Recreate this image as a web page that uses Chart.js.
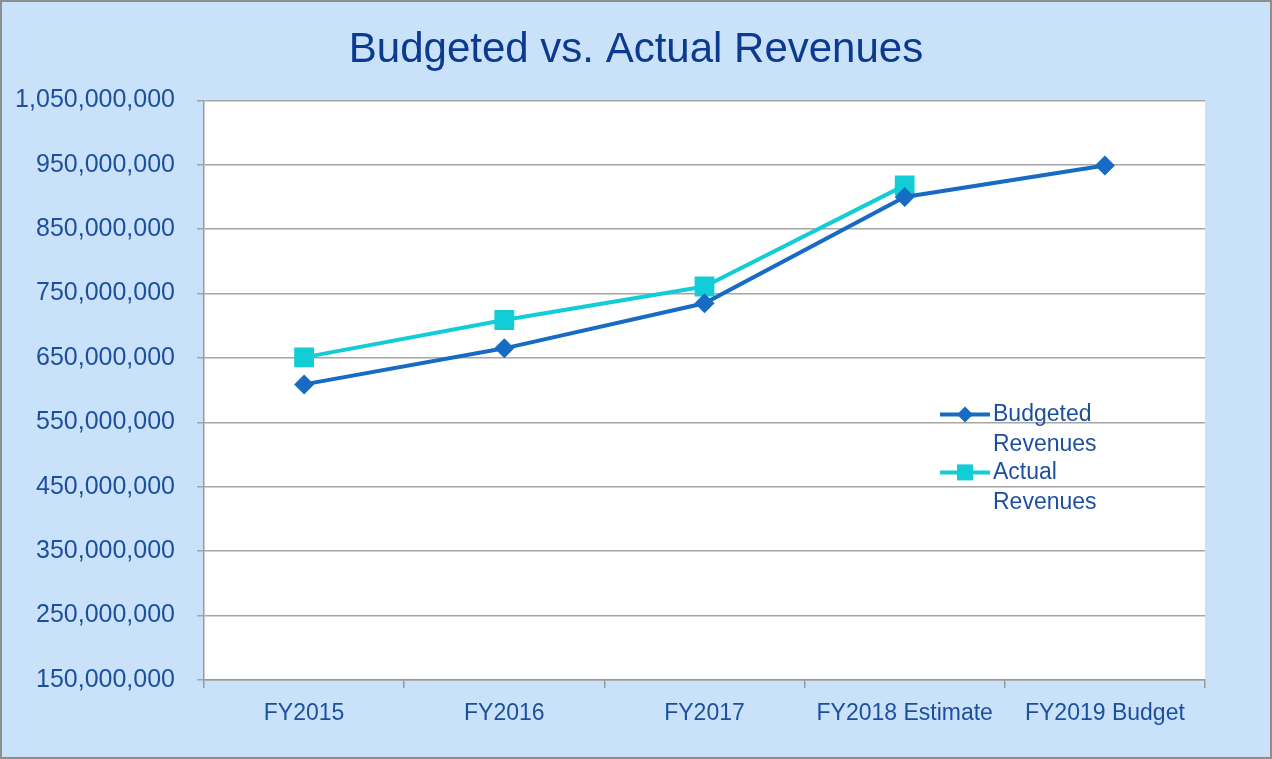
<!DOCTYPE html>
<html>
<head>
<meta charset="utf-8">
<title>Budgeted vs. Actual Revenues</title>
<script src="https://cdn.jsdelivr.net/npm/chart.js@4/dist/chart.umd.min.js"></script>
<style>
  html, body { margin: 0; padding: 0; background: #c9e2f9; }
  #wrap { width: 1272px; height: 759px; position: relative; }
</style>
</head>
<body>
<div id="wrap"><canvas id="myChart" width="1272" height="759"></canvas></div>
<script>
// --- chart data ---
const categories = ['FY2015', 'FY2016', 'FY2017', 'FY2018 Estimate', 'FY2019 Budget'];
const budgetedRevenues = [609000000, 665000000, 735000000, 900000000, 949000000];
const actualRevenues = [651000000, 709000000, 761000000, 918000000, null];
const seriesNames = ['Budgeted Revenues', 'Actual Revenues'];
const yMin = 150000000;
const yMax = 1050000000;
const yStep = 100000000;

const textBlue = '#1d4f9f';

// paints the light blue frame, the gray border and the white plot area
const backgroundPlugin = {
  id: 'frame',
  afterLayout(chart) {
    // center the title over the whole canvas, not just the padded area
    if (chart.titleBlock) {
      chart.titleBlock.left = 0;
      chart.titleBlock.right = chart.width;
      chart.titleBlock.width = chart.width;
    }
  },
  beforeDraw(chart) {
    const ctx = chart.ctx;
    const a = chart.chartArea;
    ctx.save();
    ctx.fillStyle = '#c9e2f9';
    ctx.fillRect(0, 0, chart.width, chart.height);
    ctx.strokeStyle = '#8e8e8e';
    ctx.lineWidth = 2;
    ctx.strokeRect(1, 1, chart.width - 2, chart.height - 2);
    ctx.fillStyle = '#ffffff';
    ctx.fillRect(a.left, a.top, a.right - a.left, a.bottom - a.top);
    ctx.restore();
  }
};

// legend sits inside the plot, with wrapped labels like the original
const insideLegend = {
  id: 'insideLegend',
  afterDraw(chart) {
    const ctx = chart.ctx;
    const a = chart.chartArea;
    const x0 = a.left + 736;
    let y = a.top + 314;
    ctx.save();
    ctx.font = '23px "Liberation Sans", Arial, sans-serif';
    ctx.textBaseline = 'middle';
    chart.data.datasets.forEach((ds) => {
      // line piece
      ctx.strokeStyle = ds.borderColor;
      ctx.lineWidth = 4;
      ctx.beginPath();
      ctx.moveTo(x0, y);
      ctx.lineTo(x0 + 50, y);
      ctx.stroke();
      // marker
      ctx.fillStyle = ds.pointBackgroundColor;
      if (ds.pointStyle === 'rectRot') {
        ctx.beginPath();
        ctx.moveTo(x0 + 25, y - 8);
        ctx.lineTo(x0 + 33, y);
        ctx.lineTo(x0 + 25, y + 8);
        ctx.lineTo(x0 + 17, y);
        ctx.closePath();
        ctx.fill();
      } else {
        ctx.fillRect(x0 + 17, y - 8, 16, 16);
      }
      // text, two lines
      ctx.fillStyle = textBlue;
      const words = ds.label.split(' ');
      ctx.fillText(words[0], x0 + 53, y);
      ctx.fillText(words.slice(1).join(' '), x0 + 53, y + 30);
      y += 58;
    });
    ctx.restore();
  }
};

const ctx = document.getElementById('myChart').getContext('2d');

const myChart = new Chart(ctx, {
  type: 'line',
  data: {
    labels: categories,
    datasets: [
      {
        label: seriesNames[0],
        data: budgetedRevenues,
        borderColor: '#176bc5',
        backgroundColor: '#176bc5',
        pointBackgroundColor: '#176bc5',
        pointBorderColor: '#176bc5',
        borderWidth: 4,
        pointStyle: 'rectRot',
        pointRadius: 10,
        pointBorderWidth: 0,
        tension: 0
      },
      {
        label: seriesNames[1],
        data: actualRevenues,
        borderColor: '#13cdd6',
        backgroundColor: '#13cdd6',
        pointBackgroundColor: '#13cdd6',
        pointBorderColor: '#13cdd6',
        borderWidth: 4,
        pointStyle: 'rect',
        pointRadius: 14,
        pointBorderWidth: 0,
        tension: 0
      }
    ]
  },
  options: {
    responsive: false,
    animation: false,
    layout: {
      padding: { left: 0, right: 67, top: 0, bottom: 0 }
    },
    plugins: {
      legend: { display: false },
      tooltip: { enabled: false },
      title: {
        display: true,
        text: 'Budgeted vs. Actual Revenues',
        color: '#0b3a8f',
        font: { family: '"Liberation Sans", Arial, sans-serif', size: 42, weight: 'normal' },
        padding: { top: 25, bottom: 25 }
      }
    },
    scales: {
      x: {
        offset: true,
        grid: {
          offset: true,
          drawOnChartArea: false,
          drawTicks: true,
          tickLength: 8,
          color: '#9a9a9a',
          lineWidth: 1.5
        },
        border: { color: '#9a9a9a', width: 1.5 },
        ticks: {
          color: textBlue,
          padding: 12,
          maxRotation: 0,
          font: { family: '"Liberation Sans", Arial, sans-serif', size: 23 }
        },
        afterFit(scale) { scale.height = 79; }
      },
      y: {
        min: yMin,
        max: yMax,
        grid: {
          color: '#a6a6a6',
          lineWidth: 1.5,
          tickLength: 7
        },
        border: { color: '#9a9a9a', width: 1.5 },
        ticks: {
          stepSize: yStep,
          color: textBlue,
          padding: 22,
          font: { family: '"Liberation Sans", Arial, sans-serif', size: 25 },
          callback: (v) => v.toLocaleString('en-US')
        },
        afterFit(scale) { scale.width = 204; }
      }
    }
  },
  plugins: [backgroundPlugin, insideLegend]
});
</script>
</body>
</html>
